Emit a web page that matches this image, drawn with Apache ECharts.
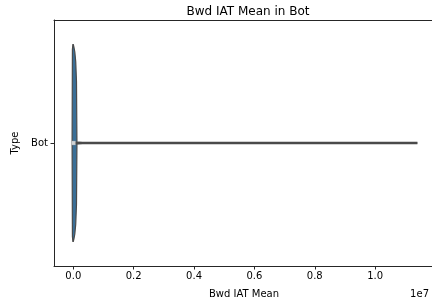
<!DOCTYPE html>
<html>
<head>
<meta charset="utf-8">
<script src="https://cdn.jsdelivr.net/npm/echarts@6/dist/echarts.min.js"></script>
<style>
  html, body { margin: 0; padding: 0; background: #fff; }
  #chart { width: 432px; height: 301px; }
</style>
</head>
<body>
<div id="chart"></div>
<script>
// categories on the y axis
var categories = ['Bot'];
// x tick values (raw units, shown scaled by 1e7)
var xTicks = [0, 2000000, 4000000, 6000000, 8000000, 10000000];
// violin outline: value along x, half width of the violin (in category band units)
var violinX = [-40000, -30000, -15000, 0, 20000, 50000, 80000, 105000, 120000, 400000, 11400000];
var violinHalf = [0, 0.38, 0.40, 0.40, 0.39, 0.37, 0.33, 0.25, 0.004, 0.001, 0];
// inner box: whisker low, q1, median, q3, whisker high
var boxStats = [0, 2000, 5000, 15000, 11400000];

var font = 'DejaVu Sans';
var gray = '#4a4a4a';

var chart = echarts.init(document.getElementById('chart'));

// polygon points of the violin, top edge then bottom edge
var violinPts = [];
for (var i = 0; i < violinX.length; i++) {
    violinPts.push([violinX[i], -violinHalf[i]]);
}
for (var j = violinX.length - 1; j >= 0; j--) {
    violinPts.push([violinX[j], violinHalf[j]]);
}

var option = {
    animation: false,
    title: {
        text: 'Bwd IAT Mean in Bot',
        left: 243,
        textAlign: 'center',
        top: 1,
        textStyle: { fontFamily: font, fontSize: 12, fontWeight: 'normal', color: '#000' }
    },
    grid: { left: 54, right: -2, top: 20, bottom: 35, containLabel: false, outerBoundsMode: 'none' },
    xAxis: [{
        type: 'value',
        min: -640000,
        max: 11950000,
        name: 'Bwd IAT Mean',
        nameLocation: 'middle',
        nameGap: 23,
        nameTextStyle: { fontFamily: font, fontSize: 10, color: '#000' },
        splitLine: { show: false },
        axisLine: { show: true, onZero: false, lineStyle: { color: '#262626', width: 1 } },
        axisTick: { show: true, length: 3.5, customValues: xTicks, lineStyle: { color: '#262626' } },
        axisLabel: {
            customValues: xTicks,
            fontFamily: font, fontSize: 10, color: '#000', margin: 5,
            formatter: function (v) { return (v / 1e7).toFixed(1); }
        }
    }, {
        type: 'value',
        position: 'top',
        min: -640000,
        max: 11950000,
        splitLine: { show: false },
        axisLine: { show: true, onZero: false, lineStyle: { color: '#262626', width: 1 } },
        axisTick: { show: false },
        axisLabel: { show: false }
    }],
    yAxis: {
        type: 'value',
        min: -0.5,
        max: 0.5,
        inverse: true,
        name: 'Type',
        nameLocation: 'middle',
        nameGap: 34,
        nameTextStyle: { fontFamily: font, fontSize: 10, color: '#000' },
        splitLine: { show: false },
        axisLine: { show: true, onZero: false, lineStyle: { color: '#262626', width: 1 } },
        axisTick: { show: true, length: 3.5, customValues: [0], lineStyle: { color: '#262626' } },
        axisLabel: {
            customValues: [0],
            fontFamily: font, fontSize: 10, color: '#000', margin: 6,
            formatter: function (v) { return categories[Math.round(v)]; }
        }
    },
    graphic: [{
        type: 'text',
        right: 3,
        bottom: 2,
        style: { text: '1e7', font: '10px "DejaVu Sans"', fill: '#000' }
    }],
    series: [{
        type: 'custom',
        coordinateSystem: 'cartesian2d',
        data: [[0, 0]],
        renderItem: function (params, api) {
            var pts = violinPts.map(function (p) { return api.coord(p); });
            return {
                type: 'polygon',
                shape: { points: pts },
                style: { fill: '#3a6f97', stroke: gray, lineWidth: 1.2 }
            };
        },
        z: 2
    }, {
        type: 'line',
        data: [[boxStats[0], 0], [boxStats[4], 0]],
        symbol: 'none',
        lineStyle: { color: gray, width: 2.6 },
        z: 3
    }, {
        type: 'line',
        data: [[boxStats[1], 0], [boxStats[3], 0]],
        symbol: 'none',
        lineStyle: { color: gray, width: 4.5 },
        z: 4
    }, {
        type: 'scatter',
        data: [[boxStats[2], 0]],
        symbol: 'rect',
        symbolSize: 4,
        itemStyle: { color: '#f4f4f4', borderColor: '#999', borderWidth: 0.5 },
        z: 5
    }]
};

chart.setOption(option);
</script>
</body>
</html>
